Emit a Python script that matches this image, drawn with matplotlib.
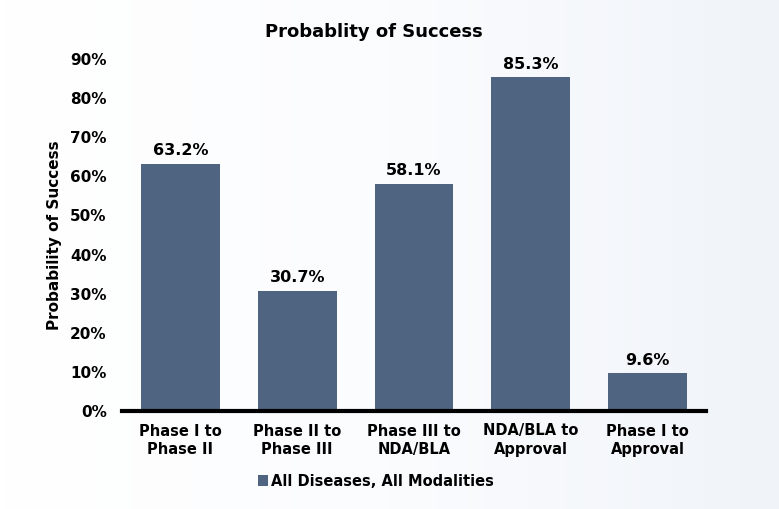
import matplotlib.pyplot as plt
import matplotlib.colors as mcolors
import numpy as np

categories = ['Phase I to\nPhase II', 'Phase II to\nPhase III', 'Phase III to\nNDA/BLA',
              'NDA/BLA to\nApproval', 'Phase I to\nApproval']
values = [63.2, 30.7, 58.1, 85.3, 9.6]
series_name = 'All Diseases, All Modalities'
y_ticks = [0, 10, 20, 30, 40, 50, 60, 70, 80, 90]

bar_color = '#4f6480'

plt.rcParams['font.family'] = 'DejaVu Sans'
plt.rcParams['font.weight'] = 'bold'

fig = plt.figure(figsize=(7.79, 5.09), dpi=100)

# background gradient, white on the left to pale blue on the right
bg = fig.add_axes([0, 0, 1, 1], zorder=-10)
cmap = mcolors.LinearSegmentedColormap.from_list('bg', ['#ffffff', '#fbfcfe', '#f0f4f9'])
bg.imshow(np.linspace(0, 1, 256).reshape(1, -1), aspect='auto', cmap=cmap,
          extent=[0, 1, 0, 1], interpolation='bilinear')
bg.axis('off')

ax = fig.add_axes([122 / 779, 1 - 411 / 509, 584 / 779, 352 / 509])
ax.patch.set_alpha(0)

X_axis = np.arange(len(categories))
bars = ax.bar(X_axis, values, 0.675, color=bar_color, label=series_name, zorder=2)

for x, v in zip(X_axis, values):
    ax.annotate(f'{v:.1f}%', (x, v), xytext=(0, 4), textcoords='offset points',
                ha='center', va='bottom', fontsize=11.5, fontweight='bold')

ax.set_xlim(-0.5, len(categories) - 0.5)
ax.set_ylim(0, 90)
ax.set_yticks(y_ticks)
ax.set_yticklabels([f'{t}%' for t in y_ticks], fontsize=11, fontweight='bold')
ax.set_xticks(X_axis)
ax.set_xticklabels(categories, fontsize=10.5, fontweight='bold', linespacing=1.3)
ax.tick_params(axis='both', length=0)
ax.tick_params(axis='y', pad=11)
ax.tick_params(axis='x', pad=9)

for s in ['top', 'right', 'left']:
    ax.spines[s].set_visible(False)
ax.spines['bottom'].set_linewidth(3)
ax.spines['bottom'].set_color('black')
ax.spines['bottom'].set_zorder(3)

ax.set_ylabel('Probability of Success', fontsize=11, fontweight='bold', labelpad=6)

fig.text(374 / 779, 1 - 32 / 509, 'Probablity of Success', ha='center', va='center',
         fontsize=13, fontweight='bold')

fig.legend(handles=[bars], labels=[series_name], loc='center', bbox_to_anchor=(376 / 779, 1 - 481 / 509),
           frameon=False, handlelength=0.7, handleheight=0.7, handletextpad=0.2,
           prop={'weight': 'bold', 'size': 10.5})

fig.savefig('out.png', dpi=100)
